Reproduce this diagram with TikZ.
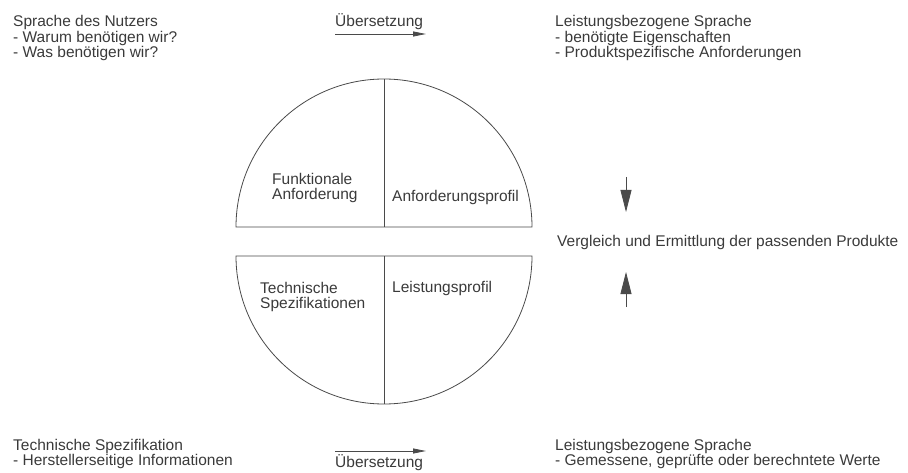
\documentclass[tikz,border=0pt]{standalone}
\usepackage{fontspec}
\setmainfont{Liberation Sans}
\usetikzlibrary{arrows.meta}
\definecolor{txt}{HTML}{3A3A3A}
\definecolor{ln}{HTML}{4A4A4A}
\tikzset{
  lbl/.style={inner sep=0pt, align=left, anchor=west, text=txt, font=\fontsize{15.5}{15.8}\selectfont},
  shape line/.style={draw=ln, line width=0.8pt},
  harrow/.style={draw=ln, line width=0.8pt, -{Triangle[length=13pt,width=5pt]}, color=ln},
  varrow/.style={draw=ln, line width=0.8pt, -{Triangle[length=22pt,width=11pt]}, color=ln},
}
\begin{document}
\begin{tikzpicture}[x=1pt,y=1pt]
\useasboundingbox (0,0) rectangle (908,472);
% semicircles
\draw[shape line] (236,245) arc[start angle=180,end angle=0,radius=148] -- cycle;
\draw[shape line] (384,245) -- (384,393);
\draw[shape line] (532,216) arc[start angle=0,end angle=-180,radius=148] -- cycle;
\draw[shape line] (384,216) -- (384,68);
% labels in circle
\node[lbl] (funk) at (272,284) {Funktionale\\Anforderung};
\node[lbl] (aprof) at (392,275) {Anforderungsprofil};
\node[lbl] (tech) at (260,175) {Technische\\Spezifikationen};
\node[lbl] (lprof) at (392,184) {Leistungsprofil};
% top texts
\node[lbl] (nutzer) at (13,434) {Sprache des Nutzers\\- Warum benötigen wir?\\- Was benötigen wir?};
\node[lbl] (uebtop) at (335,450) {Übersetzung};
\coordinate (ta1) at (335,438);
\coordinate (ta2) at (426,438);
\draw[harrow] (ta1) -- (ta2);
\node[lbl] (lstop) at (555,434) {Leistungsbezogene Sprache\\- benötigte Eigenschaften\\- Produktspezifische Anforderungen};
% comparison
\node[lbl] (vergl) at (557,230) {Vergleich und Ermittlung der passenden Produkte};
\coordinate (da1) at (626,295);
\coordinate (da2) at (626,260);
\draw[varrow] (da1) -- (da2);
\coordinate (ua1) at (626,165);
\coordinate (ua2) at (626,200);
\draw[varrow] (ua1) -- (ua2);
% bottom texts
\node[lbl] (techsp) at (13,18) {Technische Spezifikation\\- Herstellerseitige Informationen};
\coordinate (ba1) at (335,21);
\coordinate (ba2) at (426,21);
\draw[harrow] (ba1) -- (ba2);
\node[lbl] (uebbot) at (335,9.5) {Übersetzung};
\node[lbl] (lsbot) at (555,18) {Leistungsbezogene Sprache\\- Gemessene, geprüfte oder berechntete Werte};
\end{tikzpicture}
\end{document}
